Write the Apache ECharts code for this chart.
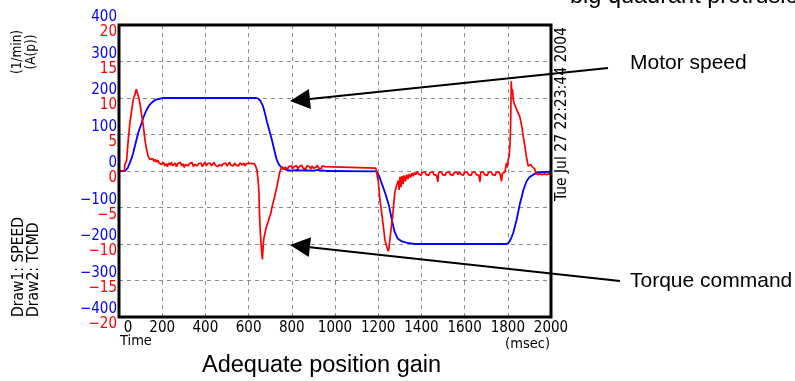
<!DOCTYPE html>
<html>
<head>
<meta charset="utf-8">
<style>
  html, body { margin: 0; padding: 0; background: #fff; }
  #chart { width: 795px; height: 381px; }
</style>
<script src="https://cdn.jsdelivr.net/npm/echarts@6/dist/echarts.min.js"></script>
</head>
<body>
<div id="chart"></div>
<script>
// axis ranges: [min, max, interval]
const timeAxis = [0, 2000, 200];
const speedAxis = [-400, 400, 100];
const torqueAxis = [-20, 20, 5];

// Draw1: SPEED (1/min), [msec, value]
const speedPoints = [
  [0, 0], [28, 0], [40, 8], [50, 22], [60, 38], [66, 50], [75, 72], [89, 105], [105, 132], [115, 150],
  [128, 168], [140, 180], [151, 187], [165, 194], [180, 197], [205, 200],
  [635, 200], [645, 198], [655, 192], [667, 177], [675, 160], [685, 135], [699, 105], [710, 80],
  [720, 55], [730, 31], [740, 18], [750, 11], [760, 7], [775, 3],
  [790, 2], [796, -2], [802, 1], [808, -3], [814, 2], [820, -1], [826, 3], [832, -2], [838, 1], [844, -3],
  [850, 2], [856, -1], [862, 3], [868, -2], [874, 1], [880, -3], [886, 2], [892, -2], [898, 1], [904, -3],
  [910, 2], [916, -1], [922, 3], [928, -2], [934, 1], [940, -3], [946, 2], [952, -2], [958, 0], [965, -1],
  [1192, -1], [1205, -15], [1220, -40], [1235, -65], [1250, -95], [1262, -130], [1275, -165], [1290, -185],
  [1310, -193], [1335, -197], [1370, -200],
  [1795, -200], [1805, -196], [1815, -185], [1826, -168], [1841, -133], [1856, -90], [1864, -72], [1872, -52],
  [1887, -28], [1900, -17], [1918, -10], [1935, -5], [1950, -3], [2000, -2]
];

// Draw2: TCMD (A(p)), [msec, value]
const torquePoints = [
  [0, 0], [25, 0], [27, 0.9], [35, 1.4], [43, 4.3], [50, 6.5], [59, 8.4], [66, 9.8], [74, 10.5], [80, 11.2],
  [84, 10.8], [90, 10.2], [97, 9.3], [105, 7.6], [113, 6.1], [120, 4.3], [128, 2.9], [135, 2.0],
  [144, 1.6], [150, 1.4], [156, 1.7], [162, 1.3], [168, 1.6], [174, 1.2], [180, 1.5], [186, 1.1], [192, 1.3], [196, 0.9],
  [200, 0.9], [206, 1.2], [212, 0.7], [218, 1.0], [224, 0.6], [230, 1.1], [236, 0.8], [242, 1.2], [248, 0.7], [254, 0.9],
  [260, 1.1], [266, 0.6], [272, 1.0], [278, 0.8], [284, 1.2], [290, 0.7], [296, 1.0], [302, 0.5], [308, 0.9], [314, 1.1],
  [320, 0.7], [326, 1.0], [332, 0.8], [338, 1.2], [344, 0.6], [350, 0.9], [356, 1.1], [362, 0.7], [368, 1.0], [374, 0.8],
  [380, 1.1], [386, 0.6], [392, 0.9], [398, 1.2], [404, 0.7], [410, 1.0], [416, 0.8], [422, 1.1], [428, 0.7], [434, 0.9],
  [440, 1.2], [446, 0.8], [452, 1.0], [458, 0.6], [464, 0.9], [470, 1.1], [476, 0.7], [482, 1.0], [488, 0.8], [494, 1.1],
  [500, 0.7], [506, 0.9], [512, 1.2], [518, 0.8], [524, 1.0], [530, 0.7], [536, 1.1], [542, 0.8], [548, 1.0], [554, 0.7],
  [560, 1.1], [566, 0.9], [572, 0.8], [578, 1.1], [584, 0.7], [590, 1.0], [596, 0.8], [602, 1.1], [608, 0.9], [614, 1.0],
  [620, 0.8], [626, 1.0], [632, 0.7], [638, 0.2], [644, -1.2], [648, -3.0], [650, -5.5], [654, -8.3], [656, -8.5],
  [660, -10.9], [664, -12.1], [668, -10.0], [672, -9.0], [678, -8.2], [684, -7.5], [690, -7.0], [696, -6.4],
  [702, -5.9], [708, -5.0], [714, -4.3], [720, -3.6], [726, -2.8], [732, -2.0], [738, -1.1], [744, -0.2],
  [750, 0.3], [756, 0.6], [762, 0.2], [768, 0.5], [774, 0.7], [780, 0.3], [786, 0.6], [792, 0.4], [798, 0.7], [804, 0.3],
  [810, 0.6], [816, 0.4], [822, 0.7], [828, 0.3], [834, 0.6], [840, 0.5], [846, 0.8], [852, 0.4], [858, 0.6], [864, 0.3],
  [870, 0.7], [876, 0.5], [882, 0.6], [888, 0.3], [894, 0.7], [900, 0.4], [906, 0.6], [912, 0.5], [918, 0.8], [924, 0.4],
  [930, 0.6], [936, 0.3], [942, 0.7], [948, 0.5], [954, 0.6], [960, 0.4],
  [1188, 0.4], [1192, 0.0], [1196, -0.8], [1200, -1.3], [1208, -3.9], [1216, -5.7], [1224, -7.6], [1231, -9.4],
  [1240, -10.4], [1247, -11.0], [1250, -10.6], [1254, -9.4], [1260, -7.9], [1267, -6.2], [1272, -4.5], [1277, -2.9],
  [1285, -2.0], [1293, -1.3], [1297, -2.6], [1301, -0.8], [1305, -2.2], [1310, -0.7], [1315, -1.8], [1320, -0.6],
  [1326, -1.4], [1332, -0.5], [1338, -1.1], [1344, -0.4], [1350, -0.9], [1356, -0.3], [1362, -0.7],
  [1368, -0.2], [1374, -0.5], [1380, -0.1], [1386, -0.4], [1392, -0.2], [1398, -0.6], [1404, -0.2], [1410, -0.4],
  [1416, -0.1], [1422, -0.5], [1428, -0.3], [1434, -0.6], [1440, -0.2], [1446, -0.4], [1452, -0.1], [1458, -0.5],
  [1464, -0.3], [1470, -0.6], [1476, -1.5], [1480, -0.2], [1486, -0.4], [1492, -0.1], [1498, -0.5], [1504, -0.3],
  [1510, -0.6], [1516, -0.2], [1522, -0.4], [1528, -0.1], [1534, -0.5], [1540, -0.3], [1546, -0.6], [1552, -0.2],
  [1558, -0.4], [1564, -0.2], [1570, -0.5], [1576, -0.1], [1582, -0.4], [1588, -0.3], [1594, -0.6], [1600, -0.2],
  [1606, -0.4], [1612, -0.1], [1618, -0.5], [1624, -0.3], [1630, -0.6], [1636, -0.2], [1642, -0.4], [1648, -0.1],
  [1654, -0.5], [1660, -0.3], [1666, -0.6], [1671, -1.5], [1675, -0.2], [1681, -0.4], [1687, -0.1], [1693, -0.5],
  [1699, -0.3], [1705, -0.6], [1711, -0.2], [1717, -0.4], [1723, -0.1], [1729, -0.5], [1735, -0.3], [1741, -0.6],
  [1747, -0.2], [1753, -0.4], [1759, -0.1], [1765, -0.5], [1771, -1.4], [1775, -0.3], [1781, -0.5], [1786, -0.2],
  [1790, 0.4], [1794, 1.1], [1798, 0.5], [1802, 1.6], [1806, 2.0], [1810, 3.5], [1813, 6.1], [1816, 12.3],
  [1819, 10.5], [1822, 11.2], [1825, 9.8], [1830, 9.2], [1835, 8.9], [1840, 8.5], [1845, 8.7], [1850, 7.8],
  [1855, 7.5], [1860, 6.8], [1866, 5.9], [1872, 4.6], [1879, 3.4], [1886, 2.0], [1894, 0.7], [1900, 0.5],
  [1906, 0.9], [1912, 0.6], [1918, 0.8], [1924, 0.3], [1930, -0.3], [1940, -0.5], [1950, -0.4], [1960, -0.5],
  [1970, -0.4], [1980, -0.5], [1990, -0.4], [2000, -0.5]
];

const narrow = '"DejaVu Sans Condensed", "Liberation Sans Narrow", sans-serif';
const sans = '"Liberation Sans", Arial, sans-serif';

// callout arrows (pixel positions of the annotation layer)
const arrows = [
  { tip: [290, 101], tail: [608, 68] },
  { tip: [290, 245], tail: [620, 281] }
];

function arrowGraphics(a) {
  const dx = a.tail[0] - a.tip[0];
  const dy = a.tail[1] - a.tip[1];
  const n = Math.hypot(dx, dy);
  const ux = dx / n, uy = dy / n;
  const bx = a.tip[0] + ux * 20, by = a.tip[1] + uy * 20;
  return [
    { type: 'line', shape: { x1: bx, y1: by, x2: a.tail[0], y2: a.tail[1] }, style: { stroke: '#000', lineWidth: 2 }, z: 100 },
    { type: 'polygon', shape: { points: [a.tip, [bx - uy * 10, by + ux * 10], [bx + uy * 10, by - ux * 10]] }, style: { fill: '#000' }, z: 100 }
  ];
}

function label(text, x, y, font, size, extra, rotated) {
  return {
    type: 'text', x: x, y: y, z: 100, rotation: rotated ? Math.PI / 2 : 0,
    style: Object.assign({ text: text, fill: '#000', font: size + 'px ' + font, verticalAlign: 'middle' }, extra || {})
  };
}

const chart = echarts.init(document.getElementById('chart'), null, { renderer: 'canvas' });

const dashed = { color: '#8c8c8c', width: 1, type: [4, 4] };

chart.setOption({
  animation: false,
  backgroundColor: '#fff',
  grid: { left: 119, right: 244, top: 25, bottom: 64, show: true, borderColor: '#000', borderWidth: 3, backgroundColor: 'transparent', z: 5 },
  xAxis: {
    type: 'value',
    min: timeAxis[0], max: timeAxis[1], interval: timeAxis[2],
    axisLine: { show: false },
    axisTick: { show: false },
    splitLine: { show: true, showMinLine: false, showMaxLine: false, lineStyle: dashed },
    axisLabel: {
      color: '#000', fontFamily: narrow, fontSize: 15, margin: 4,
      formatter: (v) => (v === 0 ? '{z|0}' : String(v)),
      rich: { z: { padding: [0, 0, 0, 18], color: '#000', fontFamily: narrow, fontSize: 15 } }
    }
  },
  yAxis: [
    {
      type: 'value', position: 'left',
      min: speedAxis[0], max: speedAxis[1], interval: speedAxis[2],
      axisLine: { show: false }, axisTick: { show: false },
      splitLine: { show: true, showMinLine: false, showMaxLine: false, lineStyle: dashed },
      axisLabel: {
        color: '#0000ff', fontFamily: narrow, fontSize: 15, margin: 2, verticalAlign: 'bottom',
        formatter: (v) => String(v).replace('-', '\u2212')
      }
    },
    {
      type: 'value', position: 'left', offset: 0,
      min: torqueAxis[0], max: torqueAxis[1], interval: torqueAxis[2],
      axisLine: { show: false }, axisTick: { show: false },
      splitLine: { show: false },
      axisLabel: {
        color: '#ff0000', fontFamily: narrow, fontSize: 15, margin: 2, verticalAlign: 'top',
        formatter: (v) => String(v).replace('-', '\u2212')
      }
    }
  ],
  series: [
    {
      name: 'SPEED', type: 'line', yAxisIndex: 0, data: speedPoints,
      showSymbol: false, symbol: 'none', lineStyle: { color: '#0000ff', width: 1.8 }, z: 3
    },
    {
      name: 'TCMD', type: 'line', yAxisIndex: 1, data: torquePoints,
      showSymbol: false, symbol: 'none', lineStyle: { color: '#ff0000', width: 1.7 }, z: 4
    }
  ],
  graphic: [
    label('(1/min)\n(A(p))', 24, 52, narrow, 13.5, { align: 'center', lineHeight: 14 }, true),
    label('Draw1: SPEED\nDraw2: TCMD', 26, 317, narrow, 15.5, { align: 'left', lineHeight: 15 }, true),
    label('Tue Jul 27 22:23:44 2004', 562, 201, narrow, 15.5, { align: 'left' }, true),
    label('Time', 120, 341, narrow, 14.5, { align: 'left' }),
    label('(msec)', 550, 344, narrow, 14.5, { align: 'right' }),
    label('Motor speed', 630, 63.5, sans, 21, { align: 'left' }),
    label('Torque command', 630, 281, sans, 21, { align: 'left' }),
    label('Adequate position gain', 202, 365.5, sans, 23.5, { align: 'left' }),
    label('big quadrant protrusion', 570, -3, sans, 23.5, { align: 'left' })
  ].concat(arrowGraphics(arrows[0]), arrowGraphics(arrows[1]))
});
</script>
</body>
</html>
